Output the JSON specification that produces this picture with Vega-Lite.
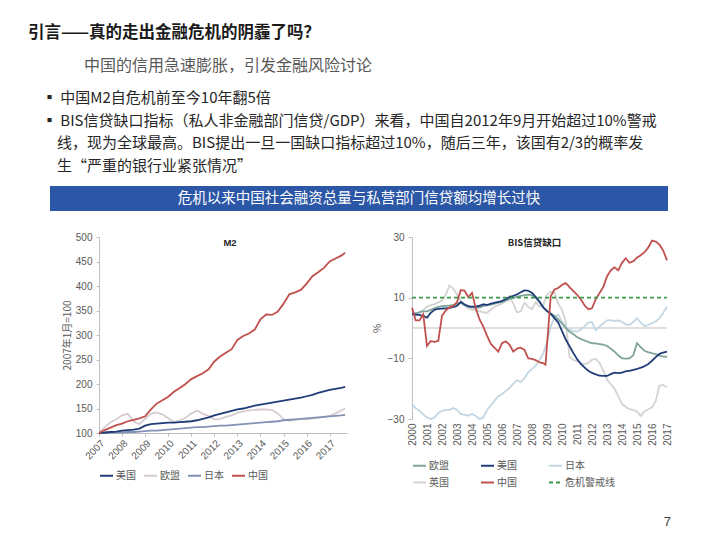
{
"$schema":"https://vega.github.io/schema/vega-lite/v6.json",
"padding":{"left":28,"top":25,"right":30,"bottom":10},
"background":"white",
"title":{"text":"引言——真的走出金融危机的阴霾了吗？","subtitle":"\u200b\u3000\u3000\u3000\u2002中国的信用急速膨胀，引发金融风险讨论","anchor":"start","dx":-14,"font":"Noto Sans CJK SC","fontSize":16.5,"fontWeight":"bold","color":"#1a1a1a","subtitleFont":"Noto Sans CJK SC","subtitleFontSize":16,"subtitleColor":"#595959","subtitlePadding":16,"offset":17},
"datasets":{
"m2":[
{"t":2007,"s":"欧盟","v":100},{"t":2007.25,"s":"欧盟","v":112},{"t":2007.5,"s":"欧盟","v":122},{"t":2007.75,"s":"欧盟","v":128},
{"t":2008,"s":"欧盟","v":136},{"t":2008.25,"s":"欧盟","v":139},{"t":2008.5,"s":"欧盟","v":124},{"t":2008.75,"s":"欧盟","v":118},
{"t":2009,"s":"欧盟","v":129},{"t":2009.25,"s":"欧盟","v":139},{"t":2009.5,"s":"欧盟","v":142},{"t":2009.75,"s":"欧盟","v":138},
{"t":2010,"s":"欧盟","v":130},{"t":2010.25,"s":"欧盟","v":122},{"t":2010.5,"s":"欧盟","v":126},{"t":2010.75,"s":"欧盟","v":131},
{"t":2011,"s":"欧盟","v":140},{"t":2011.25,"s":"欧盟","v":146},{"t":2011.5,"s":"欧盟","v":139},{"t":2011.75,"s":"欧盟","v":135},
{"t":2012,"s":"欧盟","v":128},{"t":2012.25,"s":"欧盟","v":129},{"t":2012.5,"s":"欧盟","v":133},{"t":2012.75,"s":"欧盟","v":136},
{"t":2013,"s":"欧盟","v":141},{"t":2013.25,"s":"欧盟","v":144},{"t":2013.5,"s":"欧盟","v":146},{"t":2013.75,"s":"欧盟","v":147},
{"t":2014,"s":"欧盟","v":148},{"t":2014.25,"s":"欧盟","v":148},{"t":2014.5,"s":"欧盟","v":147},{"t":2014.75,"s":"欧盟","v":140},
{"t":2015,"s":"欧盟","v":128},{"t":2015.25,"s":"欧盟","v":125},{"t":2015.5,"s":"欧盟","v":127},{"t":2015.75,"s":"欧盟","v":129},
{"t":2016,"s":"欧盟","v":128},{"t":2016.25,"s":"欧盟","v":130},{"t":2016.5,"s":"欧盟","v":131},{"t":2016.75,"s":"欧盟","v":133},
{"t":2017,"s":"欧盟","v":135},{"t":2017.25,"s":"欧盟","v":140},{"t":2017.5,"s":"欧盟","v":146},{"t":2017.67,"s":"欧盟","v":150},
{"t":2007,"s":"日本","v":100},{"t":2007.25,"s":"日本","v":100},{"t":2007.5,"s":"日本","v":101},{"t":2007.75,"s":"日本","v":101},
{"t":2008,"s":"日本","v":101},{"t":2008.25,"s":"日本","v":102},{"t":2008.5,"s":"日本","v":102},{"t":2008.75,"s":"日本","v":103},
{"t":2009,"s":"日本","v":104},{"t":2009.25,"s":"日本","v":105},{"t":2009.5,"s":"日本","v":105},{"t":2009.75,"s":"日本","v":106},
{"t":2010,"s":"日本","v":107},{"t":2010.25,"s":"日本","v":108},{"t":2010.5,"s":"日本","v":109},{"t":2010.75,"s":"日本","v":110},
{"t":2011,"s":"日本","v":111},{"t":2011.25,"s":"日本","v":112},{"t":2011.5,"s":"日本","v":112},{"t":2011.75,"s":"日本","v":113},
{"t":2012,"s":"日本","v":114},{"t":2012.25,"s":"日本","v":115},{"t":2012.5,"s":"日本","v":115},{"t":2012.75,"s":"日本","v":116},
{"t":2013,"s":"日本","v":117},{"t":2013.25,"s":"日本","v":118},{"t":2013.5,"s":"日本","v":119},{"t":2013.75,"s":"日本","v":120},
{"t":2014,"s":"日本","v":121},{"t":2014.25,"s":"日本","v":122},{"t":2014.5,"s":"日本","v":123},{"t":2014.75,"s":"日本","v":124},
{"t":2015,"s":"日本","v":126},{"t":2015.25,"s":"日本","v":127},{"t":2015.5,"s":"日本","v":128},{"t":2015.75,"s":"日本","v":129},
{"t":2016,"s":"日本","v":130},{"t":2016.25,"s":"日本","v":131},{"t":2016.5,"s":"日本","v":132},{"t":2016.75,"s":"日本","v":133},
{"t":2017,"s":"日本","v":134},{"t":2017.25,"s":"日本","v":135},{"t":2017.5,"s":"日本","v":136},{"t":2017.67,"s":"日本","v":137},
{"t":2007,"s":"美国","v":100},{"t":2007.25,"s":"美国","v":101},{"t":2007.5,"s":"美国","v":102},{"t":2007.75,"s":"美国","v":103},
{"t":2008,"s":"美国","v":105},{"t":2008.25,"s":"美国","v":106},{"t":2008.5,"s":"美国","v":107},{"t":2008.75,"s":"美国","v":109},
{"t":2009,"s":"美国","v":115},{"t":2009.25,"s":"美国","v":118},{"t":2009.5,"s":"美国","v":119},{"t":2009.75,"s":"美国","v":120},
{"t":2010,"s":"美国","v":121},{"t":2010.25,"s":"美国","v":121},{"t":2010.5,"s":"美国","v":122},{"t":2010.75,"s":"美国","v":123},
{"t":2011,"s":"美国","v":124},{"t":2011.25,"s":"美国","v":126},{"t":2011.5,"s":"美国","v":129},{"t":2011.75,"s":"美国","v":132},
{"t":2012,"s":"美国","v":136},{"t":2012.25,"s":"美国","v":139},{"t":2012.5,"s":"美国","v":142},{"t":2012.75,"s":"美国","v":145},
{"t":2013,"s":"美国","v":148},{"t":2013.25,"s":"美国","v":150},{"t":2013.5,"s":"美国","v":153},{"t":2013.75,"s":"美国","v":156},
{"t":2014,"s":"美国","v":158},{"t":2014.25,"s":"美国","v":160},{"t":2014.5,"s":"美国","v":162},{"t":2014.75,"s":"美国","v":164},
{"t":2015,"s":"美国","v":166},{"t":2015.25,"s":"美国","v":168},{"t":2015.5,"s":"美国","v":170},{"t":2015.75,"s":"美国","v":172},
{"t":2016,"s":"美国","v":175},{"t":2016.25,"s":"美国","v":178},{"t":2016.5,"s":"美国","v":182},{"t":2016.75,"s":"美国","v":185},
{"t":2017,"s":"美国","v":188},{"t":2017.25,"s":"美国","v":190},{"t":2017.5,"s":"美国","v":192},{"t":2017.67,"s":"美国","v":194},
{"t":2007,"s":"中国","v":100},{"t":2007.25,"s":"中国","v":106},{"t":2007.5,"s":"中国","v":111},{"t":2007.75,"s":"中国","v":116},
{"t":2008,"s":"中国","v":119},{"t":2008.25,"s":"中国","v":124},{"t":2008.5,"s":"中国","v":127},{"t":2008.75,"s":"中国","v":130},
{"t":2009,"s":"中国","v":134},{"t":2009.25,"s":"中国","v":148},{"t":2009.5,"s":"中国","v":160},{"t":2009.75,"s":"中国","v":167},
{"t":2010,"s":"中国","v":174},{"t":2010.25,"s":"中国","v":184},{"t":2010.5,"s":"中国","v":192},{"t":2010.75,"s":"中国","v":200},
{"t":2011,"s":"中国","v":210},{"t":2011.25,"s":"中国","v":216},{"t":2011.5,"s":"中国","v":222},{"t":2011.75,"s":"中国","v":230},
{"t":2012,"s":"中国","v":246},{"t":2012.25,"s":"中国","v":256},{"t":2012.5,"s":"中国","v":264},{"t":2012.75,"s":"中国","v":271},
{"t":2013,"s":"中国","v":290},{"t":2013.25,"s":"中国","v":298},{"t":2013.5,"s":"中国","v":303},{"t":2013.75,"s":"中国","v":311},
{"t":2014,"s":"中国","v":332},{"t":2014.25,"s":"中国","v":342},{"t":2014.5,"s":"中国","v":341},{"t":2014.75,"s":"中国","v":348},
{"t":2015,"s":"中国","v":364},{"t":2015.25,"s":"中国","v":383},{"t":2015.5,"s":"中国","v":387},{"t":2015.75,"s":"中国","v":392},
{"t":2016,"s":"中国","v":405},{"t":2016.25,"s":"中国","v":420},{"t":2016.5,"s":"中国","v":428},{"t":2016.75,"s":"中国","v":437},
{"t":2017,"s":"中国","v":450},{"t":2017.25,"s":"中国","v":456},{"t":2017.5,"s":"中国","v":462},{"t":2017.67,"s":"中国","v":468}
],
"bis":[
{"t":2000,"s":"英国","v":4.0},{"t":2000.25,"s":"英国","v":5.0},{"t":2000.5,"s":"英国","v":4.8},{"t":2000.75,"s":"英国","v":6.0},
{"t":2001,"s":"英国","v":7.0},{"t":2001.25,"s":"英国","v":7.5},{"t":2001.5,"s":"英国","v":7.8},{"t":2001.75,"s":"英国","v":8.5},
{"t":2002,"s":"英国","v":9.0},{"t":2002.25,"s":"英国","v":11.0},{"t":2002.5,"s":"英国","v":14.0},{"t":2002.75,"s":"英国","v":13.0},
{"t":2003,"s":"英国","v":11.0},{"t":2003.25,"s":"英国","v":9.0},{"t":2003.5,"s":"英国","v":7.5},{"t":2003.75,"s":"英国","v":6.5},
{"t":2004,"s":"英国","v":6.0},{"t":2004.25,"s":"英国","v":5.8},{"t":2004.5,"s":"英国","v":5.5},{"t":2004.75,"s":"英国","v":5.2},
{"t":2005,"s":"英国","v":5.0},{"t":2005.25,"s":"英国","v":6.0},{"t":2005.5,"s":"英国","v":7.0},{"t":2005.75,"s":"英国","v":7.5},
{"t":2006,"s":"英国","v":8.0},{"t":2006.25,"s":"英国","v":9.0},{"t":2006.5,"s":"英国","v":10.5},{"t":2006.75,"s":"英国","v":8.0},
{"t":2007,"s":"英国","v":5.2},{"t":2007.25,"s":"英国","v":5.5},{"t":2007.5,"s":"英国","v":8.3},{"t":2007.75,"s":"英国","v":7.0},
{"t":2008,"s":"英国","v":6.2},{"t":2008.25,"s":"英国","v":8.5},{"t":2008.5,"s":"英国","v":7.0},{"t":2008.75,"s":"英国","v":7.5},
{"t":2009,"s":"英国","v":11.0},{"t":2009.25,"s":"英国","v":12.0},{"t":2009.5,"s":"英国","v":11.5},{"t":2009.75,"s":"英国","v":8.0},
{"t":2010,"s":"英国","v":6.0},{"t":2010.25,"s":"英国","v":2.0},{"t":2010.5,"s":"英国","v":-9.5},{"t":2010.75,"s":"英国","v":-10.5},
{"t":2011,"s":"英国","v":-11.0},{"t":2011.25,"s":"英国","v":-11.5},{"t":2011.5,"s":"英国","v":-12.0},{"t":2011.75,"s":"英国","v":-11.5},
{"t":2012,"s":"英国","v":-10.5},{"t":2012.25,"s":"英国","v":-10.2},{"t":2012.5,"s":"英国","v":-11.5},{"t":2012.75,"s":"英国","v":-14.0},
{"t":2013,"s":"英国","v":-17.0},{"t":2013.25,"s":"英国","v":-18.5},{"t":2013.5,"s":"英国","v":-20.0},{"t":2013.75,"s":"英国","v":-22.5},
{"t":2014,"s":"英国","v":-25.0},{"t":2014.25,"s":"英国","v":-26.0},{"t":2014.5,"s":"英国","v":-26.8},{"t":2014.75,"s":"英国","v":-27.0},
{"t":2015,"s":"英国","v":-27.5},{"t":2015.25,"s":"英国","v":-29.0},{"t":2015.5,"s":"英国","v":-27.5},{"t":2015.75,"s":"英国","v":-26.8},
{"t":2016,"s":"英国","v":-26.2},{"t":2016.25,"s":"英国","v":-24.0},{"t":2016.5,"s":"英国","v":-19.0},{"t":2016.75,"s":"英国","v":-18.8},
{"t":2017,"s":"英国","v":-19.5},
{"t":2000,"s":"日本","v":-25.0},{"t":2000.25,"s":"日本","v":-26.5},{"t":2000.5,"s":"日本","v":-27.3},{"t":2000.75,"s":"日本","v":-28.5},
{"t":2001,"s":"日本","v":-29.5},{"t":2001.25,"s":"日本","v":-30.0},{"t":2001.5,"s":"日本","v":-29.5},{"t":2001.75,"s":"日本","v":-28.0},
{"t":2002,"s":"日本","v":-27.3},{"t":2002.25,"s":"日本","v":-27.0},{"t":2002.5,"s":"日本","v":-27.0},{"t":2002.75,"s":"日本","v":-26.4},
{"t":2003,"s":"日本","v":-27.0},{"t":2003.25,"s":"日本","v":-28.3},{"t":2003.5,"s":"日本","v":-28.6},{"t":2003.75,"s":"日本","v":-28.9},
{"t":2004,"s":"日本","v":-28.3},{"t":2004.25,"s":"日本","v":-29.0},{"t":2004.5,"s":"日本","v":-30.0},{"t":2004.75,"s":"日本","v":-29.5},
{"t":2005,"s":"日本","v":-27.0},{"t":2005.25,"s":"日本","v":-25.5},{"t":2005.5,"s":"日本","v":-24.0},{"t":2005.75,"s":"日本","v":-22.5},
{"t":2006,"s":"日本","v":-21.8},{"t":2006.25,"s":"日本","v":-20.8},{"t":2006.5,"s":"日本","v":-19.8},{"t":2006.75,"s":"日本","v":-18.4},
{"t":2007,"s":"日本","v":-17.2},{"t":2007.25,"s":"日本","v":-17.8},{"t":2007.5,"s":"日本","v":-16.5},{"t":2007.75,"s":"日本","v":-14.6},
{"t":2008,"s":"日本","v":-13.5},{"t":2008.25,"s":"日本","v":-12.4},{"t":2008.5,"s":"日本","v":-10.5},{"t":2008.75,"s":"日本","v":-8.5},
{"t":2009,"s":"日本","v":-4.5},{"t":2009.25,"s":"日本","v":0.5},{"t":2009.5,"s":"日本","v":3.5},{"t":2009.75,"s":"日本","v":4.5},
{"t":2010,"s":"日本","v":2.0},{"t":2010.25,"s":"日本","v":0.5},{"t":2010.5,"s":"日本","v":-0.5},{"t":2010.75,"s":"日本","v":-1.0},
{"t":2011,"s":"日本","v":-1.2},{"t":2011.25,"s":"日本","v":-0.5},{"t":2011.5,"s":"日本","v":0.5},{"t":2011.75,"s":"日本","v":1.8},
{"t":2012,"s":"日本","v":2.0},{"t":2012.25,"s":"日本","v":-0.8},{"t":2012.5,"s":"日本","v":0.5},{"t":2012.75,"s":"日本","v":1.5},
{"t":2013,"s":"日本","v":2.5},{"t":2013.25,"s":"日本","v":2.6},{"t":2013.5,"s":"日本","v":2.3},{"t":2013.75,"s":"日本","v":2.5},
{"t":2014,"s":"日本","v":2.0},{"t":2014.25,"s":"日本","v":1.2},{"t":2014.5,"s":"日本","v":1.0},{"t":2014.75,"s":"日本","v":2.0},
{"t":2015,"s":"日本","v":3.2},{"t":2015.25,"s":"日本","v":1.8},{"t":2015.5,"s":"日本","v":0.6},{"t":2015.75,"s":"日本","v":1.0},
{"t":2016,"s":"日本","v":1.6},{"t":2016.25,"s":"日本","v":2.2},{"t":2016.5,"s":"日本","v":3.2},{"t":2016.75,"s":"日本","v":5.0},
{"t":2017,"s":"日本","v":7.0},
{"t":2000,"s":"欧盟","v":5.0},{"t":2000.25,"s":"欧盟","v":4.8},{"t":2000.5,"s":"欧盟","v":5.2},{"t":2000.75,"s":"欧盟","v":5.5},
{"t":2001,"s":"欧盟","v":5.5},{"t":2001.25,"s":"欧盟","v":6.0},{"t":2001.5,"s":"欧盟","v":6.5},{"t":2001.75,"s":"欧盟","v":7.0},
{"t":2002,"s":"欧盟","v":7.2},{"t":2002.25,"s":"欧盟","v":7.3},{"t":2002.5,"s":"欧盟","v":7.4},{"t":2002.75,"s":"欧盟","v":7.6},
{"t":2003,"s":"欧盟","v":8.0},{"t":2003.25,"s":"欧盟","v":8.3},{"t":2003.5,"s":"欧盟","v":7.5},{"t":2003.75,"s":"欧盟","v":7.0},
{"t":2004,"s":"欧盟","v":6.8},{"t":2004.25,"s":"欧盟","v":6.6},{"t":2004.5,"s":"欧盟","v":6.8},{"t":2004.75,"s":"欧盟","v":7.2},
{"t":2005,"s":"欧盟","v":7.5},{"t":2005.25,"s":"欧盟","v":7.7},{"t":2005.5,"s":"欧盟","v":8.0},{"t":2005.75,"s":"欧盟","v":8.3},
{"t":2006,"s":"欧盟","v":8.6},{"t":2006.25,"s":"欧盟","v":9.0},{"t":2006.5,"s":"欧盟","v":9.5},{"t":2006.75,"s":"欧盟","v":9.9},
{"t":2007,"s":"欧盟","v":10.3},{"t":2007.25,"s":"欧盟","v":10.6},{"t":2007.5,"s":"欧盟","v":10.8},{"t":2007.75,"s":"欧盟","v":11.0},
{"t":2008,"s":"欧盟","v":10.8},{"t":2008.25,"s":"欧盟","v":10.0},{"t":2008.5,"s":"欧盟","v":8.5},{"t":2008.75,"s":"欧盟","v":6.8},
{"t":2009,"s":"欧盟","v":5.6},{"t":2009.25,"s":"欧盟","v":4.8},{"t":2009.5,"s":"欧盟","v":4.0},{"t":2009.75,"s":"欧盟","v":2.8},
{"t":2010,"s":"欧盟","v":1.5},{"t":2010.25,"s":"欧盟","v":0.0},{"t":2010.5,"s":"欧盟","v":-1.2},{"t":2010.75,"s":"欧盟","v":-2.0},
{"t":2011,"s":"欧盟","v":-3.0},{"t":2011.25,"s":"欧盟","v":-3.6},{"t":2011.5,"s":"欧盟","v":-4.1},{"t":2011.75,"s":"欧盟","v":-4.6},
{"t":2012,"s":"欧盟","v":-5.0},{"t":2012.25,"s":"欧盟","v":-5.1},{"t":2012.5,"s":"欧盟","v":-5.3},{"t":2012.75,"s":"欧盟","v":-5.5},
{"t":2013,"s":"欧盟","v":-5.9},{"t":2013.25,"s":"欧盟","v":-6.8},{"t":2013.5,"s":"欧盟","v":-7.8},{"t":2013.75,"s":"欧盟","v":-9.0},
{"t":2014,"s":"欧盟","v":-10.0},{"t":2014.25,"s":"欧盟","v":-10.1},{"t":2014.5,"s":"欧盟","v":-10.0},{"t":2014.75,"s":"欧盟","v":-9.0},
{"t":2015,"s":"欧盟","v":-5.0},{"t":2015.25,"s":"欧盟","v":-6.3},{"t":2015.5,"s":"欧盟","v":-7.5},{"t":2015.75,"s":"欧盟","v":-8.0},
{"t":2016,"s":"欧盟","v":-8.3},{"t":2016.25,"s":"欧盟","v":-8.6},{"t":2016.5,"s":"欧盟","v":-9.1},{"t":2016.75,"s":"欧盟","v":-9.4},
{"t":2017,"s":"欧盟","v":-9.5},
{"t":2000,"s":"美国","v":4.5},{"t":2000.25,"s":"美国","v":4.4},{"t":2000.5,"s":"美国","v":4.3},{"t":2000.75,"s":"美国","v":4.0},
{"t":2001,"s":"美国","v":3.4},{"t":2001.25,"s":"美国","v":5.0},{"t":2001.5,"s":"美国","v":6.0},{"t":2001.75,"s":"美国","v":6.3},
{"t":2002,"s":"美国","v":6.4},{"t":2002.25,"s":"美国","v":6.5},{"t":2002.5,"s":"美国","v":6.6},{"t":2002.75,"s":"美国","v":6.9},
{"t":2003,"s":"美国","v":7.3},{"t":2003.25,"s":"美国","v":8.6},{"t":2003.5,"s":"美国","v":7.8},{"t":2003.75,"s":"美国","v":7.2},
{"t":2004,"s":"美国","v":7.0},{"t":2004.25,"s":"美国","v":7.1},{"t":2004.5,"s":"美国","v":7.3},{"t":2004.75,"s":"美国","v":7.8},
{"t":2005,"s":"美国","v":7.6},{"t":2005.25,"s":"美国","v":8.0},{"t":2005.5,"s":"美国","v":8.3},{"t":2005.75,"s":"美国","v":8.6},
{"t":2006,"s":"美国","v":8.9},{"t":2006.25,"s":"美国","v":9.5},{"t":2006.5,"s":"美国","v":10.2},{"t":2006.75,"s":"美国","v":10.6},
{"t":2007,"s":"美国","v":11.1},{"t":2007.25,"s":"美国","v":11.8},{"t":2007.5,"s":"美国","v":12.4},{"t":2007.75,"s":"美国","v":12.3},
{"t":2008,"s":"美国","v":11.6},{"t":2008.25,"s":"美国","v":10.2},{"t":2008.5,"s":"美国","v":8.7},{"t":2008.75,"s":"美国","v":6.8},
{"t":2009,"s":"美国","v":5.6},{"t":2009.25,"s":"美国","v":4.7},{"t":2009.5,"s":"美国","v":3.2},{"t":2009.75,"s":"美国","v":1.8},
{"t":2010,"s":"美国","v":-1.0},{"t":2010.25,"s":"美国","v":-3.8},{"t":2010.5,"s":"美国","v":-6.0},{"t":2010.75,"s":"美国","v":-8.2},
{"t":2011,"s":"美国","v":-10.2},{"t":2011.25,"s":"美国","v":-11.8},{"t":2011.5,"s":"美国","v":-13.0},{"t":2011.75,"s":"美国","v":-14.1},
{"t":2012,"s":"美国","v":-14.8},{"t":2012.25,"s":"美国","v":-15.3},{"t":2012.5,"s":"美国","v":-15.7},{"t":2012.75,"s":"美国","v":-15.8},
{"t":2013,"s":"美国","v":-15.8},{"t":2013.25,"s":"美国","v":-15.2},{"t":2013.5,"s":"美国","v":-14.7},{"t":2013.75,"s":"美国","v":-14.9},
{"t":2014,"s":"美国","v":-14.7},{"t":2014.25,"s":"美国","v":-14.3},{"t":2014.5,"s":"美国","v":-14.1},{"t":2014.75,"s":"美国","v":-13.8},
{"t":2015,"s":"美国","v":-13.5},{"t":2015.25,"s":"美国","v":-13.1},{"t":2015.5,"s":"美国","v":-12.6},{"t":2015.75,"s":"美国","v":-11.9},
{"t":2016,"s":"美国","v":-10.8},{"t":2016.25,"s":"美国","v":-9.6},{"t":2016.5,"s":"美国","v":-8.5},{"t":2016.75,"s":"美国","v":-8.1},
{"t":2017,"s":"美国","v":-7.8},
{"t":2000,"s":"中国","v":6.7},{"t":2000.25,"s":"中国","v":2.5},{"t":2000.5,"s":"中国","v":2.5},{"t":2000.75,"s":"中国","v":4.5},
{"t":2001,"s":"中国","v":-5.9},{"t":2001.25,"s":"中国","v":-4.3},{"t":2001.5,"s":"中国","v":-4.6},{"t":2001.75,"s":"中国","v":-4.3},
{"t":2002,"s":"中国","v":4.0},{"t":2002.25,"s":"中国","v":5.8},{"t":2002.5,"s":"中国","v":6.8},{"t":2002.75,"s":"中国","v":7.2},
{"t":2003,"s":"中国","v":8.5},{"t":2003.25,"s":"中国","v":12.5},{"t":2003.5,"s":"中国","v":12.3},{"t":2003.75,"s":"中国","v":10.2},
{"t":2004,"s":"中国","v":11.6},{"t":2004.25,"s":"中国","v":6.5},{"t":2004.5,"s":"中国","v":2.9},{"t":2004.75,"s":"中国","v":0.5},
{"t":2005,"s":"中国","v":-2.5},{"t":2005.25,"s":"中国","v":-5.2},{"t":2005.5,"s":"中国","v":-6.5},{"t":2005.75,"s":"中国","v":-7.8},
{"t":2006,"s":"中国","v":-5.0},{"t":2006.25,"s":"中国","v":-4.4},{"t":2006.5,"s":"中国","v":-5.5},{"t":2006.75,"s":"中国","v":-7.8},
{"t":2007,"s":"中国","v":-6.8},{"t":2007.25,"s":"中国","v":-6.5},{"t":2007.5,"s":"中国","v":-7.2},{"t":2007.75,"s":"中国","v":-10.0},
{"t":2008,"s":"中国","v":-10.2},{"t":2008.25,"s":"中国","v":-10.6},{"t":2008.5,"s":"中国","v":-11.3},{"t":2008.75,"s":"中国","v":-11.6},
{"t":2008.9,"s":"中国","v":-12.1},{"t":2009.25,"s":"中国","v":10.5},{"t":2009.5,"s":"中国","v":12.7},{"t":2009.75,"s":"中国","v":13.2},
{"t":2010,"s":"中国","v":14.2},{"t":2010.25,"s":"中国","v":14.8},{"t":2010.5,"s":"中国","v":13.5},{"t":2010.75,"s":"中国","v":12.2},
{"t":2011,"s":"中国","v":11.0},{"t":2011.25,"s":"中国","v":9.5},{"t":2011.5,"s":"中国","v":7.5},{"t":2011.75,"s":"中国","v":6.2},
{"t":2012,"s":"中国","v":6.5},{"t":2012.25,"s":"中国","v":9.5},{"t":2012.5,"s":"中国","v":11.5},{"t":2012.75,"s":"中国","v":13.5},
{"t":2013,"s":"中国","v":17.0},{"t":2013.25,"s":"中国","v":19.0},{"t":2013.5,"s":"中国","v":20.0},{"t":2013.75,"s":"中国","v":19.0},
{"t":2014,"s":"中国","v":21.5},{"t":2014.25,"s":"中国","v":23.0},{"t":2014.5,"s":"中国","v":21.5},{"t":2014.75,"s":"中国","v":22.0},
{"t":2015,"s":"中国","v":23.2},{"t":2015.25,"s":"中国","v":24.0},{"t":2015.5,"s":"中国","v":25.0},{"t":2015.75,"s":"中国","v":26.5},
{"t":2016,"s":"中国","v":28.8},{"t":2016.25,"s":"中国","v":28.5},{"t":2016.5,"s":"中国","v":27.5},{"t":2016.75,"s":"中国","v":25.5},
{"t":2017,"s":"中国","v":22.3},
{"t":2000,"s":"危机警戒线","v":10},{"t":2017,"s":"危机警戒线","v":10}
]
},
"concat":[
{
"width":618,"height":25,
"view":{"fill":"#2B57A6","stroke":null},
"title":{"text":["▪ 中国M2自危机前至今10年翻5倍","▪ BIS信贷缺口指标（私人非金融部门信贷/GDP）来看，中国自2012年9月开始超过10%警戒","\u200b\u3000线，现为全球最高。BIS提出一旦一国缺口指标超过10%，随后三年，该国有2/3的概率发","\u200b\u3000生“严重的银行业紧张情况”"],"anchor":"start","dx":-8,"font":"Noto Sans CJK SC","fontSize":15,"fontWeight":"normal","color":"#262626","lineHeight":22.7,"offset":12},
"data":{"values":[{"label":"危机以来中国社会融资总量与私营部门信贷额均增长过快"}]},
"mark":{"type":"text","color":"white","font":"Noto Sans CJK SC","fontSize":14.5},
"encoding":{"text":{"field":"label","type":"nominal"}}
},
{
"title":{"text":"7","orient":"bottom","anchor":"end","font":"Liberation Sans","fontSize":13,"fontWeight":"normal","color":"#404040","offset":28,"dx":-1},
"spacing":11,
"hconcat":[
{"width":1,"height":1,"data":{"values":[]},"mark":{"type":"point"}},
{
"spacing":23,
"resolve":{"scale":{"color":"independent","strokeDash":"independent"},"legend":{"color":"independent","strokeDash":"independent"}},
"hconcat":[
{
"width":248,"height":196,
"title":{"text":"M2","anchor":"middle","offset":-15,"dx":7,"font":"Liberation Sans","fontSize":9.5,"fontWeight":"bold","color":"#262626"},
"data":{"name":"m2"},
"mark":{"type":"line","strokeWidth":1.8},
"encoding":{
"x":{"field":"t","type":"quantitative","scale":{"domain":[2007,2017.75],"nice":false,"zero":false},"axis":{"values":[2007,2008,2009,2010,2011,2012,2013,2014,2015,2016,2017],"format":"d","labelAngle":-45,"title":null,"tickSize":3,"labelPadding":2}},
"y":{"field":"v","type":"quantitative","scale":{"domain":[100,500],"nice":false,"zero":false},"axis":{"values":[100,150,200,250,300,350,400,450,500],"title":"2007年1月=100","tickSize":3,"labelPadding":4,"titlePadding":3}},
"color":{"field":"s","type":"nominal","scale":{"domain":["美国","欧盟","日本","中国"],"range":["#1F3C78","#D6CCD0","#8391B6","#C0504D"]},"legend":{"orient":"bottom","direction":"horizontal","title":null,"columnPadding":4,"offset":7,"symbolType":"stroke","symbolSize":169,"symbolStrokeWidth":2,"labelOffset":2}}
}
},
{
"width":255,"height":182,
"title":{"text":"BIS信贷缺口","anchor":"middle","offset":-15,"dx":-5,"font":"Noto Sans CJK SC","fontSize":9.5,"fontWeight":"bold","color":"#262626"},
"layer":[
{"data":{"values":[{}]},"mark":{"type":"rule","color":"#BFBFBF","strokeWidth":1},"encoding":{"y":{"datum":0,"type":"quantitative","title":"%"}}},
{"data":{"name":"bis"},"mark":{"type":"line","strokeWidth":1.8},
"encoding":{
"x":{"field":"t","type":"quantitative","scale":{"domain":[2000,2017],"nice":false,"zero":false},"axis":{"values":[2000,2001,2002,2003,2004,2005,2006,2007,2008,2009,2010,2011,2012,2013,2014,2015,2016,2017],"format":"d","labelAngle":-90,"title":null,"domain":false,"ticks":false,"labelPadding":4}},
"y":{"field":"v","type":"quantitative","title":"%","scale":{"domain":[-30,30],"nice":false,"zero":false},"axis":{"values":[-30,-20,-10,0,10,20,30],"tickSize":4,"labelPadding":4,"titlePadding":5}},
"color":{"field":"s","type":"nominal","scale":{"domain":["欧盟","美国","日本","英国","中国","危机警戒线"],"range":["#7FA59A","#1F3C78","#C3D6E3","#D3D3D3","#C0504D","#3A9A4A"]},"legend":{"orient":"bottom","direction":"horizontal","columns":3,"title":null,"columnPadding":28,"rowPadding":4,"offset":12,"symbolType":"stroke","symbolSize":169,"symbolStrokeWidth":2,"labelOffset":2}},
"strokeDash":{"field":"s","type":"nominal","scale":{"domain":["欧盟","美国","日本","英国","中国","危机警戒线"],"range":[[1,0],[1,0],[1,0],[1,0],[1,0],[4,3]]},"legend":{"orient":"bottom","direction":"horizontal","columns":3,"title":null,"columnPadding":28,"rowPadding":4,"offset":12,"symbolType":"stroke","symbolSize":169,"symbolStrokeWidth":2,"labelOffset":2}}
}}
]
}
]
}
]
}
],
"columns":1,
"align":"none",
"spacing":21,
"config":{
"view":{"stroke":null},
"axis":{"grid":false,"labelFont":"Liberation Sans","labelFontSize":10,"labelColor":"#595959","domainColor":"#BFBFBF","tickColor":"#BFBFBF","titleFont":"Noto Sans CJK SC","titleFontSize":10,"titleFontWeight":"normal","titleColor":"#595959"},
"legend":{"labelFont":"Noto Sans CJK SC","labelFontSize":10,"labelColor":"#595959"}
}
}
